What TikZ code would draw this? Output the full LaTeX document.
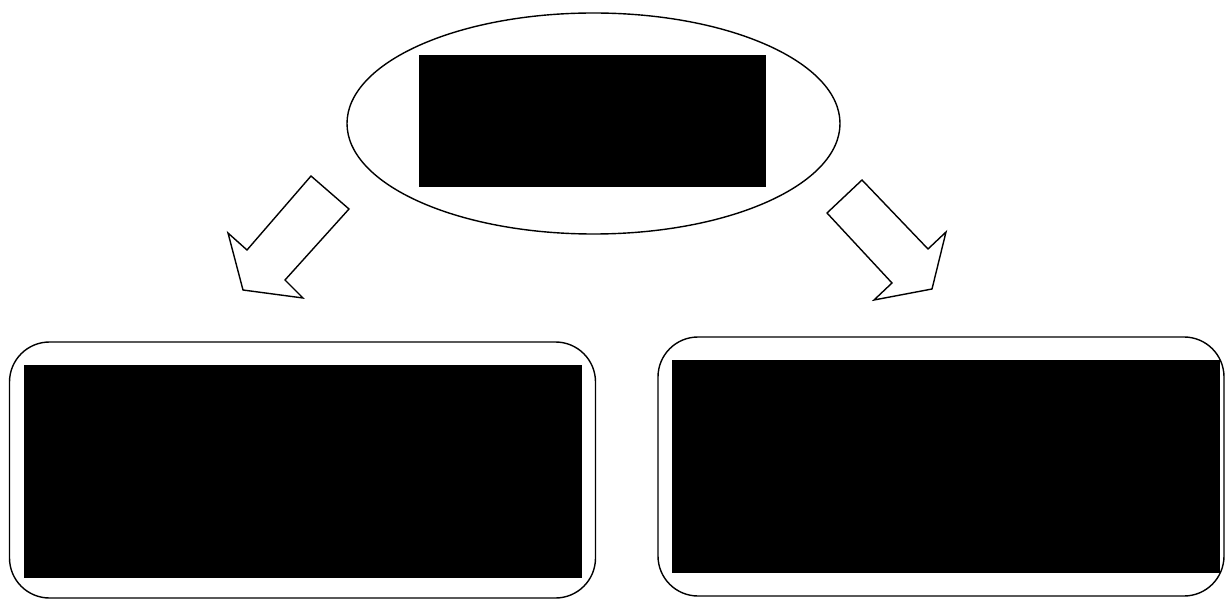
\documentclass[tikz,border=0pt]{standalone}
\usetikzlibrary{shapes.geometric}
\tikzset{
  outline/.style={draw=black, line width=1.4pt, fill=white, inner sep=0pt},
  oval/.style={outline, ellipse},
  roundbox/.style={outline, rectangle, rounded corners=40pt},
  redact/.style={fill=black, draw=none, inner sep=0pt, rectangle},
  blockarrow/.style={draw=black, line width=1.4pt, fill=white, line join=miter}
}
\begin{document}
\begin{tikzpicture}[x=1pt,y=-1pt]
\useasboundingbox (0,0) rectangle (1226,601);
% top ellipse
\node[oval, minimum width=493pt, minimum height=221pt] (top) at (593.5,123.5) {};
\node[redact, minimum width=347pt, minimum height=132pt] (topr) at (592.5,121) {};
% bottom boxes
\node[roundbox, minimum width=586pt, minimum height=256pt] (left) at (302.5,470) {};
\node[redact, minimum width=558pt, minimum height=213pt] (leftr) at (303,471.5) {};
\node[roundbox, minimum width=566pt, minimum height=259pt] (right) at (941,466.5) {};
\node[redact, minimum width=548pt, minimum height=213pt] (rightr) at (946,466.5) {};
% block arrows
\draw[blockarrow] (311,176) -- (349,209) -- (285,280) -- (303,298) -- (243,290) -- (228,233) -- (247,250) -- cycle;
\draw[blockarrow] (862,180) -- (928,249) -- (946,232) -- (932,289) -- (874,300) -- (892,283) -- (827,213) -- cycle;
\end{tikzpicture}
\end{document}
